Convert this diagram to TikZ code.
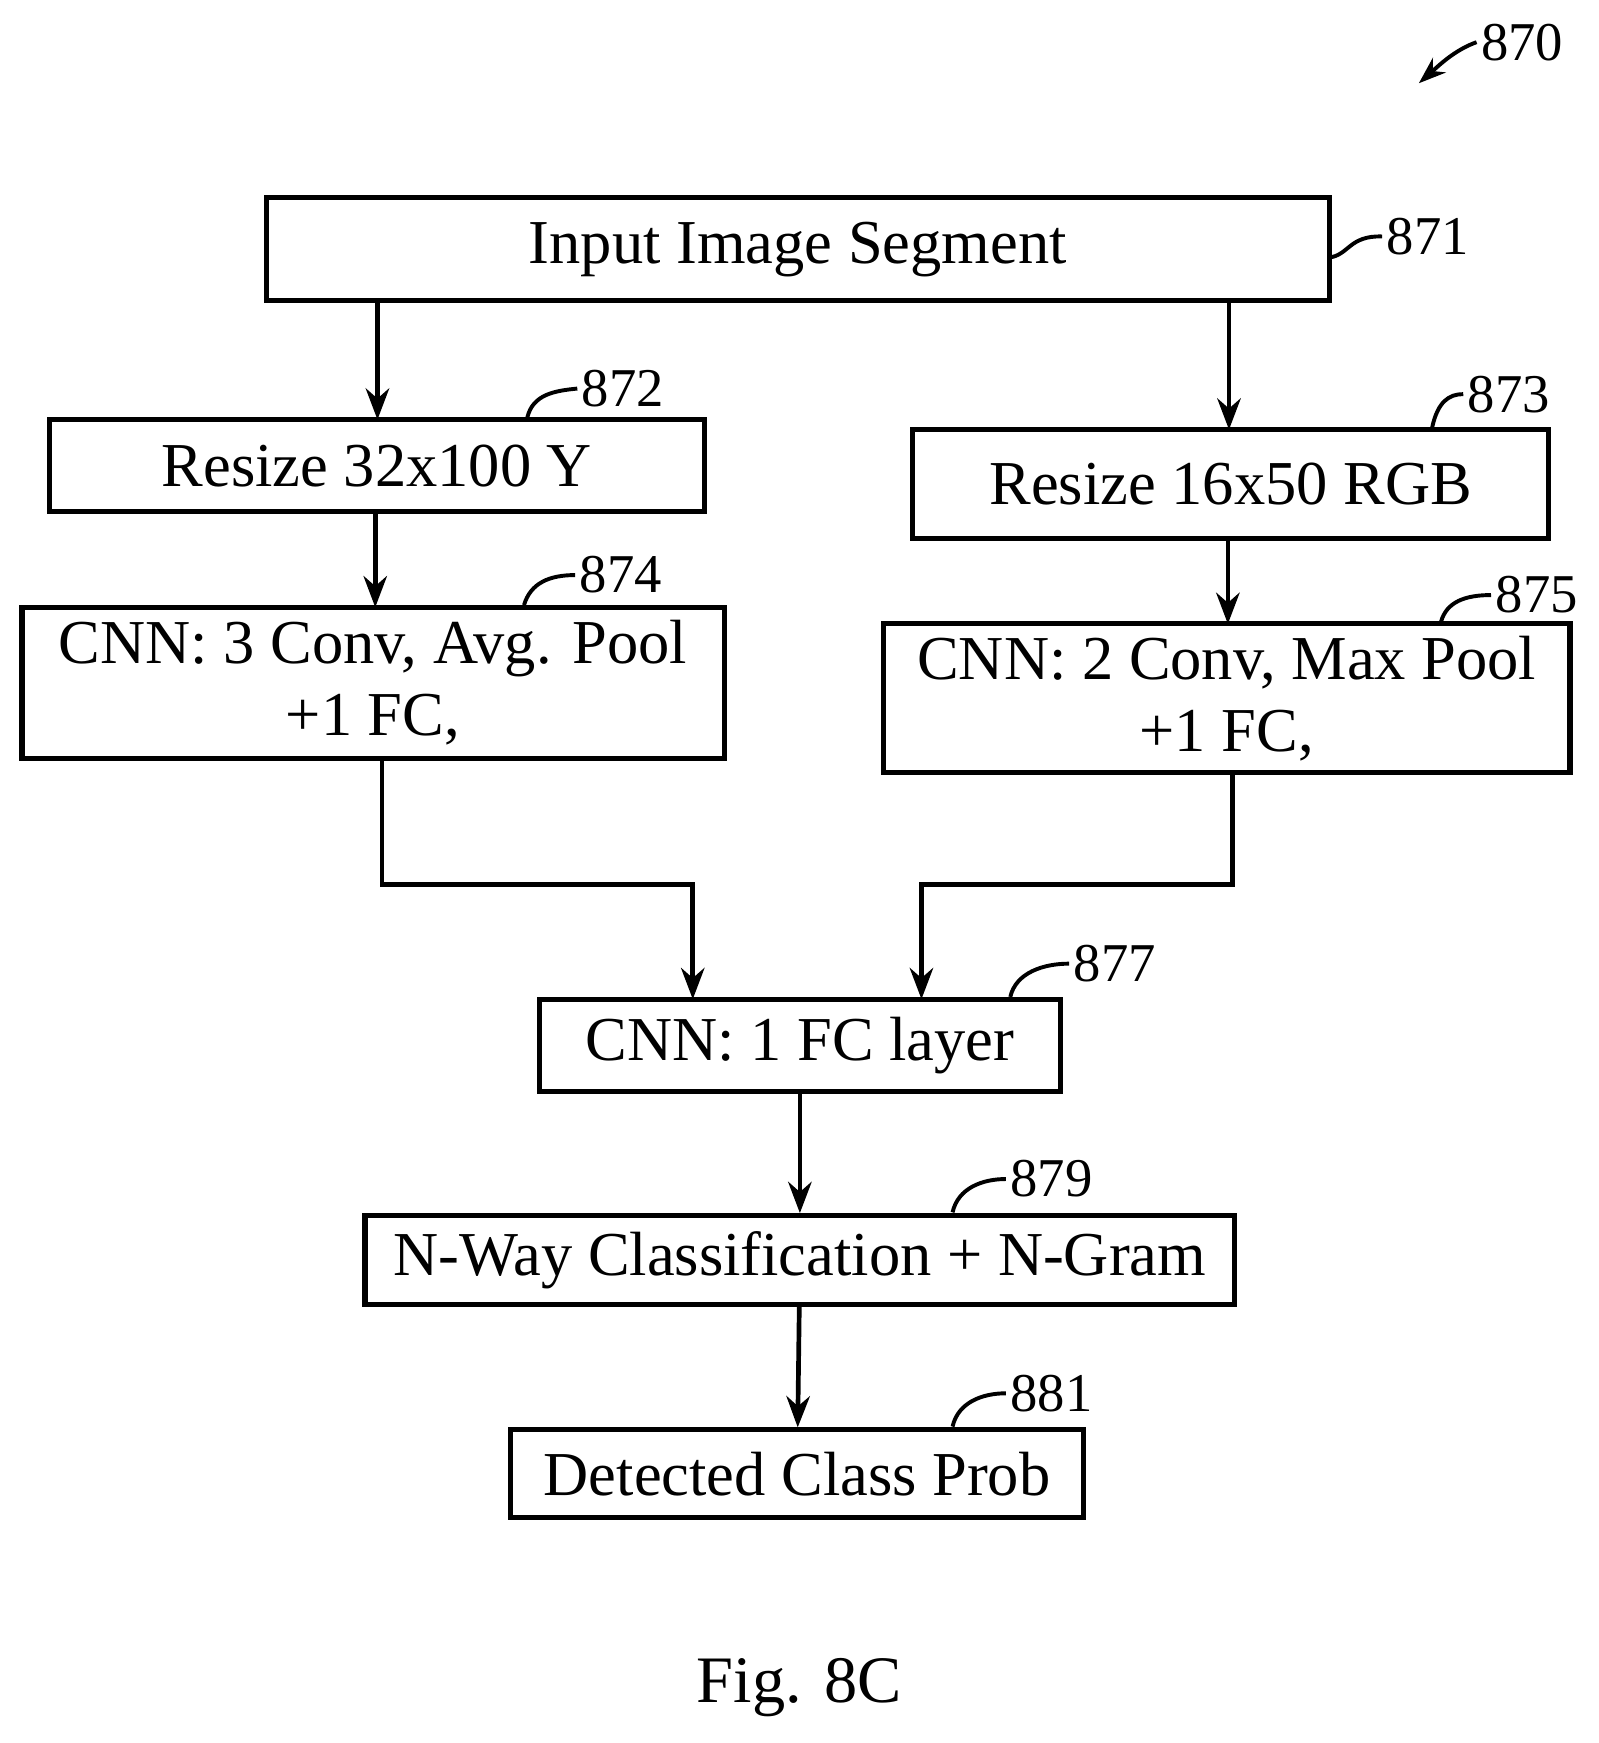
\documentclass[tikz,border=0pt]{standalone}
\usepackage{fontspec}
\setmainfont{Liberation Serif}
\usetikzlibrary{arrows.meta}
\begin{document}
\begin{tikzpicture}[x=0.01cm,y=-0.01cm,
 box/.style={draw,line width=1.3pt,inner sep=0pt,font=\fontsize{16}{18.5}\selectfont,align=center},
 arr/.style={line width=1.2pt,-{Stealth[length=8pt,width=6pt]}},
 lab/.style={font=\fontsize{14}{16}\selectfont,inner sep=1pt},
 sq/.style={line width=1pt}]
\useasboundingbox (0,0) rectangle (1440,1570);
\fill[white] (0,0) rectangle (1440,1570);
\node[box,minimum width=9.57cm,minimum height=0.93cm] (a) at (718.5,224.5) {Input Image Segment};
\node[box,minimum width=5.89cm,minimum height=0.83cm] (b) at (339.5,419.5) {Resize 32x100 Y};
\node[box,minimum width=5.73cm,minimum height=0.98cm] (c) at (1108.5,436) {Resize 16x50 RGB};
\node[box,minimum width=6.32cm,minimum height=1.36cm] (d) at (336,615) {CNN: 3 Conv, Avg. Pool\\+1 FC,};
\node[box,minimum width=6.18cm,minimum height=1.34cm] (e) at (1105,629) {CNN: 2 Conv, Max Pool\\+1 FC,};
\node[box,minimum width=4.69cm,minimum height=0.83cm] (f) at (720.5,941.5) {CNN: 1 FC layer};
\node[box,minimum width=7.83cm,minimum height=0.80cm] (g) at (720.5,1135) {N-Way Classification + N-Gram};
\node[box,minimum width=5.16cm,minimum height=0.79cm] (h) at (718,1327.5) {Detected Class Prob};
\draw[arr] (340,271) -- (340,378);
\draw[arr] (1107,271) -- (1107,387);
\draw[arr] (338,461) -- (338,547);
\draw[arr] (1106,485) -- (1106,562);
\draw[arr] (344,683) -- (344,797) -- (624,797) -- (624,900);
\draw[arr] (1110,696) -- (1110,797) -- (830,797) -- (830,900);
\draw[arr] (f) -- (g);
\draw[arr] (g) -- (h);
% labels
\node[lab,anchor=west] (l871) at (1245,213) {871};
\draw[sq] (1197,232) .. controls (1215,230) and (1215,212) .. (l871.west);
\node[lab,anchor=west] (l872) at (520,350) {872};
\draw[sq] (475,376) .. controls (480,355) and (500,352) .. (l872.west);
\node[lab,anchor=west] (l873) at (1318,355) {873};
\draw[sq] (1290,385) .. controls (1295,362) and (1305,355) .. (l873.west);
\node[lab,anchor=west] (l874) at (518,518) {874};
\draw[sq] (472,545) .. controls (478,525) and (495,518) .. (l874.west);
\node[lab,anchor=west] (l875) at (1343,536) {875};
\draw[sq] (1298,560) .. controls (1303,542) and (1320,536) .. (l875.west);
\node[lab,anchor=west] (l877) at (963,868) {877};
\draw[sq] (910,898) .. controls (915,876) and (940,868) .. (l877.west);
\node[lab,anchor=west] (l879) at (906,1062) {879};
\draw[sq] (858,1092) .. controls (863,1070) and (885,1062) .. (l879.west);
\node[lab,anchor=west] (l881) at (906,1255) {881};
\draw[sq] (858,1285) .. controls (863,1263) and (885,1255) .. (l881.west);
\node[lab,anchor=west] (l870) at (1330,38) {870};
\draw[line width=1pt,-{Stealth[length=7pt,width=5pt]}] (l870.west) .. controls (1310,45) and (1295,60) .. (1278,75);
\node[font=\fontsize{17}{20}\selectfont] (fig) at (720,1520) {Fig. 8C};
\end{tikzpicture}
\end{document}
